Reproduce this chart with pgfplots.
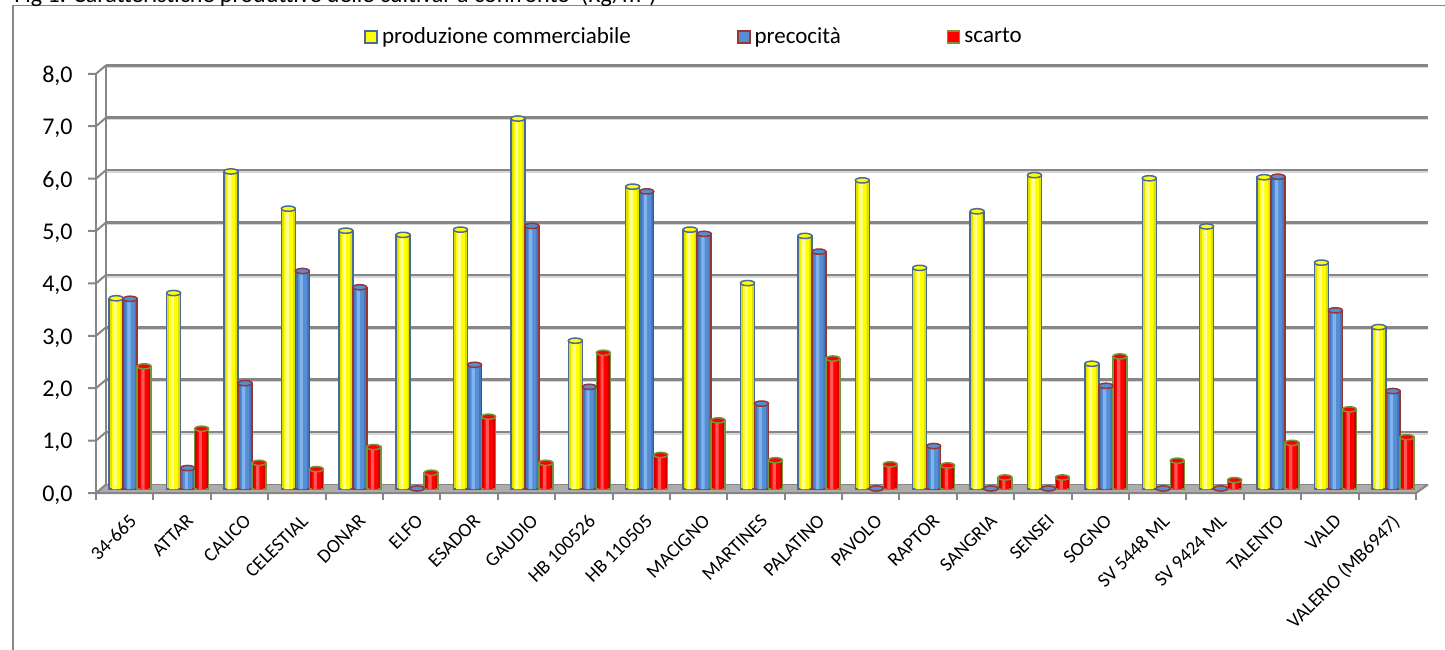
\documentclass[border=0pt]{standalone}
\usepackage{pgfplots}
\usepackage{pgfplotstable}
\pgfplotsset{compat=1.18}
\usepackage{fontspec}
\setmainfont{Carlito}

% bar colours (edge shade, fill, highlight, outline)
\definecolor{yD}{RGB}{222,222,0}
\definecolor{yB}{RGB}{255,255,0}
\definecolor{yL}{RGB}{255,255,150}
\definecolor{yE}{RGB}{74,106,154}
\definecolor{bD}{RGB}{68,118,184}
\definecolor{bB}{RGB}{85,142,213}
\definecolor{bL}{RGB}{128,178,236}
\definecolor{bE}{RGB}{149,55,53}
\definecolor{rD}{RGB}{212,0,0}
\definecolor{rB}{RGB}{255,0,0}
\definecolor{rL}{RGB}{255,85,85}
\definecolor{rE}{RGB}{119,147,60}
\definecolor{gridc}{RGB}{134,134,134}
\definecolor{gridl}{RGB}{215,215,215}
\definecolor{floorc}{RGB}{172,172,172}

\pgfdeclareplotmark{cap}{%
  \pgfpathellipse{\pgfpointorigin}{\pgfqpoint{3.5pt}{0pt}}{\pgfqpoint{0pt}{1.3pt}}%
  \pgfusepathqfillstroke}

\pgfplotsset{
  cyl/.style n args={4}{ybar, bar width=7pt, bar shift=#1, fill=#2, draw=#4, line width=0.75pt},
  cylin/.style n args={2}{ybar, bar width=4.4pt, bar shift=#1, fill=#2, draw=none},
  cylhi/.style n args={2}{ybar, bar width=1.6pt, bar shift=#1, fill=#2, draw=none},
  cylcap/.style n args={3}{only marks, mark=cap,
    mark options={xshift=#1, fill=#2, draw=#3, line width=0.75pt}},
}

% kg/m2 per cultivar
\pgfplotstableread{
i  prod  prec  scarto
0  3.64  3.63  2.34
1  3.74  0.40  1.15
2  6.06  2.02  0.50
3  5.35  4.16  0.38
4  4.93  3.85  0.80
5  4.85  0.01  0.31
6  4.95  2.37  1.38
7  7.07  5.02  0.50
8  2.83  1.95  2.60
9  5.77  5.68  0.65
10 4.95  4.87  1.31
11 3.93  1.63  0.55
12 4.83  4.53  2.49
13 5.89  0.01  0.47
14 4.22  0.82  0.45
15 5.30  0.01  0.22
16 5.99  0.01  0.22
17 2.39  1.97  2.53
18 5.93  0.01  0.54
19 5.01  0.01  0.17
20 5.95  5.96  0.88
21 4.32  3.41  1.52
22 3.09  1.87  0.99
}\datatable

\begin{document}
\begin{tikzpicture}
\path[use as bounding box] (0,0) rectangle (722.5pt,324.5pt);

% background: frame, title, floor, back wall (1 unit = 1 px)
\begin{scope}[x=0.5pt,y=0.5pt]
  \draw[gridc, line width=0.75pt] (13,-20) -- (13,643.5) -- (1480,643.5);
  \node[anchor=base west, inner sep=0pt, font=\fontsize{12}{14}\selectfont]
    at (14,646) {Fig 1. Caratteristiche produttive delle cultivar a confronto\ \ (Kg/m²)};
  \fill[floorc] (96,156) -- (1416,156) -- (1428,164.5) -- (106,164.5) -- cycle;
  \foreach \k in {1,...,8} {
    \draw[gridl, line width=0.75pt] (106,{162.5+52.4*\k}) -- (1428,{162.5+52.4*\k});
    \draw[gridc, line width=1.25pt] (106,{164.5+52.4*\k}) -- (1428,{164.5+52.4*\k});
  }
  \draw[gridc, line width=1pt] (106,164.5) -- (106,583.7);
  \draw[gridc, line width=0.75pt] (106,164.5) -- (1428,164.5);
\end{scope}

\begin{axis}[
  at={(50.75pt,80pt)}, anchor=south west,
  scale only axis, width=660pt, height=209.6pt,
  xmin=-0.5, xmax=22.5, ymin=0, ymax=8,
  clip=false,
  axis line style={draw=none},
  major tick style={draw=none},
  xtick={0,...,22},
  xticklabels={34-665, ATTAR, CALICO, CELESTIAL, DONAR, ELFO, ESADOR, GAUDIO,
    HB 100526, HB 110505, MACIGNO, MARTINES, PALATINO, PAVOLO, RAPTOR, SANGRIA,
    SENSEI, SOGNO, SV 5448 ML, SV 9424 ML, TALENTO, VALD, VALERIO (MB6947)},
  xticklabel style={xshift=-1pt, yshift=-12pt, rotate=45, anchor=north east,
    inner sep=0pt, font=\fontsize{9.7}{12}\selectfont},
  ytick={0,...,8},
  yticklabel style={xshift=-14.25pt, yshift=-3pt, anchor=east, inner sep=0pt,
    font=\fontsize{12}{14}\selectfont,
    /pgf/number format/.cd, fixed, fixed zerofill, precision=1, use comma,
    assume math mode=true},
  legend style={draw=none, fill=none, inner sep=0pt,
    at={(axis description cs:0.1989,1.078)}, anchor=west,
    legend columns=-1, font=\fontsize{11.5}{13}\selectfont,
    /tikz/every even column/.append style={column sep=51pt},
    nodes={inner sep=2pt}},
]
\addlegendimage{legend image code/.code={\draw[fill=yB, draw=yE, line width=0.8pt] (0pt,-3pt) rectangle (6pt,3pt);}}
\addlegendentry{produzione commerciabile}
\addlegendimage{legend image code/.code={\draw[fill=bB, draw=bE, line width=0.8pt] (0pt,-3pt) rectangle (6pt,3pt);}}
\addlegendentry{precocità}
\addlegendimage{legend image code/.code={\draw[fill=rB, draw=rE, line width=0.8pt] (0pt,-3pt) rectangle (6pt,3pt);}}
\addlegendentry{scarto}

% produzione commerciabile
\addplot[cyl={-7pt}{yD}{yL}{yE}] table[x=i, y=prod] {\datatable};
\addplot[cylin={-7pt}{yB}] table[x=i, y=prod] {\datatable};
\addplot[cylhi={-7.6pt}{yL}] table[x=i, y=prod] {\datatable};
\addplot[cylcap={-7pt}{yB}{yE}] table[x=i, y=prod] {\datatable};
% precocita
\addplot[cyl={0pt}{bD}{bL}{bE}] table[x=i, y=prec] {\datatable};
\addplot[cylin={0pt}{bB}] table[x=i, y=prec] {\datatable};
\addplot[cylhi={-0.6pt}{bL}] table[x=i, y=prec] {\datatable};
\addplot[cylcap={0pt}{bB}{bE}] table[x=i, y=prec] {\datatable};
% scarto
\addplot[cyl={7pt}{rD}{rL}{rE}] table[x=i, y=scarto] {\datatable};
\addplot[cylin={7pt}{rB}] table[x=i, y=scarto] {\datatable};
\addplot[cylhi={6.4pt}{rL}] table[x=i, y=scarto] {\datatable};
\addplot[cylcap={7pt}{rB}{rE}] table[x=i, y=scarto] {\datatable};
\end{axis}

% front axes with ticks
\begin{scope}[x=0.5pt,y=0.5pt]
  \draw[gridc, line width=1pt] (96,156) -- (96,575.2);
  \foreach \k in {0,...,8} {
    \draw[gridc, line width=1pt] (88,{156+52.4*\k}) -- (96,{156+52.4*\k}) -- (106,{164.5+52.4*\k});
  }
  \draw[gridc, line width=1pt] (96,156) -- (1416,156) -- (1428,164.5);
  \foreach \k in {0,...,23} {
    \draw[gridc, line width=1pt] ({96+57.391*\k},156) -- ({96+57.391*\k},149);
  }
\end{scope}
\end{tikzpicture}
\end{document}
